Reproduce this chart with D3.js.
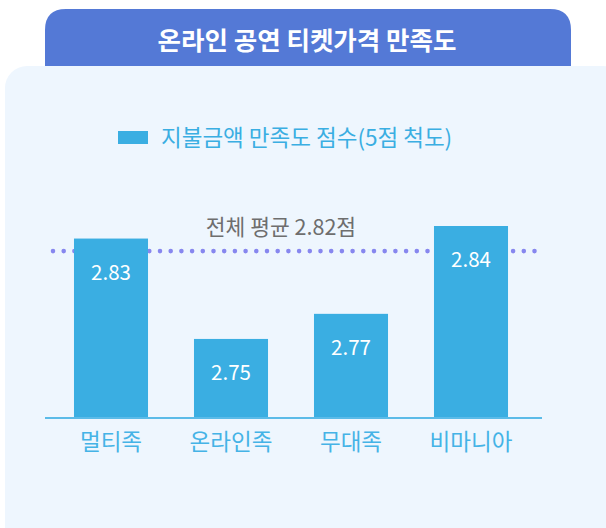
<!DOCTYPE html>
<html>
<head>
<meta charset="utf-8">
<script src="https://cdn.jsdelivr.net/npm/d3@7"></script>
<style>
  html, body { margin: 0; padding: 0; background: #ffffff; }
  svg { display: block; font-family: "Noto Sans CJK KR", "Noto Sans", sans-serif; }
</style>
</head>
<body>
<svg id="chart" width="606" height="528"></svg>
<script>
// ===== DATA =====
const categories = ['멀티족', '온라인족', '무대족', '비마니아'];
const scores = [2.83, 2.75, 2.77, 2.84];
const averageScore = 2.82;
const titleText = '온라인 공연 티켓가격 만족도';
const legendLabel = '지불금액 만족도 점수(5점 척도)';
const averageLabel = '전체 평균 2.82점';

// ===== STYLE =====
const tabColor = '#5479d6';
const panelColor = '#eef6fe';
const barColor = '#3aaee2';
const axisColor = '#5bbbe8';
const dotColor = '#8787ef';

const svg = d3.select('#chart');

// Title tab
svg.append('path')
    .attr('d', 'M45,75 L45,30 Q45,9 66,9 L550,9 Q571,9 571,30 L571,75 Z')
    .attr('fill', tabColor);

svg.append('text')
    .attr('x', 307)
    .attr('y', 50)
    .attr('text-anchor', 'middle')
    .style('font-size', '25.5px')
    .style('font-weight', 'bold')
    .style('fill', '#ffffff')
    .text(titleText);

// Panel
svg.append('rect')
    .attr('x', 5)
    .attr('y', 66)
    .attr('width', 620)
    .attr('height', 500)
    .attr('rx', 22)
    .attr('fill', panelColor);

// Legend
svg.append('rect')
    .attr('x', 118)
    .attr('y', 131)
    .attr('width', 30)
    .attr('height', 13)
    .attr('fill', barColor);

svg.append('text')
    .attr('x', 161)
    .attr('y', 146)
    .style('font-size', '22.5px')
    .style('fill', barColor)
    .text(legendLabel);

// Scales
const x = d3.scaleBand()
    .domain(categories)
    .range([51, 531])
    .paddingInner(0.383)
    .paddingOuter(0.1915);

const y = d3.scaleLinear()
    .domain([2.687, 2.84])
    .range([418, 226]);

// Average dotted line (behind bars)
const avgY = y(averageScore);
svg.append('line')
    .attr('x1', 53)
    .attr('x2', 545)
    .attr('y1', avgY)
    .attr('y2', avgY)
    .attr('stroke', dotColor)
    .attr('stroke-width', 4.6)
    .attr('stroke-linecap', 'round')
    .attr('stroke-dasharray', '0 10.7');

svg.append('text')
    .attr('x', 281)
    .attr('y', avgY - 16)
    .attr('text-anchor', 'middle')
    .style('font-size', '21.5px')
    .style('fill', '#6e6e6e')
    .text(averageLabel);

// Bars
const data = categories.map((c, i) => ({ category: c, value: scores[i] }));

svg.append('g')
    .selectAll('rect')
    .data(data)
    .join('rect')
    .attr('x', d => x(d.category))
    .attr('y', d => y(d.value))
    .attr('width', x.bandwidth())
    .attr('height', d => y.range()[0] - y(d.value))
    .attr('fill', barColor);

// Value labels
svg.append('g')
    .selectAll('text')
    .data(data)
    .join('text')
    .attr('x', d => x(d.category) + x.bandwidth() / 2)
    .attr('y', d => y(d.value) + 41)
    .attr('text-anchor', 'middle')
    .style('font-size', '20.5px')
    .style('fill', '#ffffff')
    .text(d => d.value.toFixed(2));

// Axis
const axis = svg.append('g')
    .attr('transform', `translate(0, ${y.range()[0]})`)
    .call(d3.axisBottom(x).tickSize(0).tickPadding(16));

axis.select('.domain').remove();
axis.append('line')
    .attr('x1', 45)
    .attr('x2', 542)
    .attr('stroke', axisColor)
    .attr('stroke-width', 2);

axis.selectAll('.tick text')
    .style('font-family', '"Noto Sans CJK KR", "Noto Sans", sans-serif')
    .style('font-size', '22.5px')
    .style('fill', '#45b3e6');
</script>
</body>
</html>
